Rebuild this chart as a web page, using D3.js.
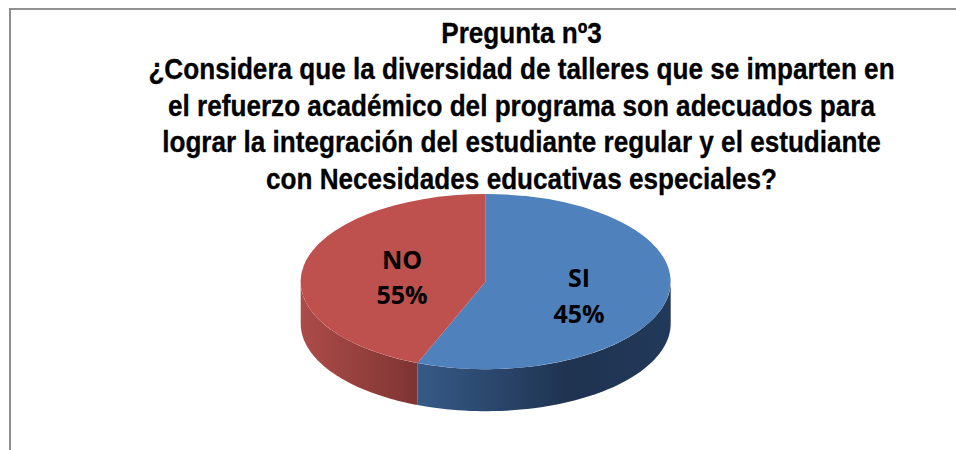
<!DOCTYPE html>
<html><head><meta charset="utf-8">
<script src="https://cdn.jsdelivr.net/npm/d3@7/dist/d3.min.js"></script>
<style>html,body{margin:0;padding:0;background:#fff}svg{display:block}</style>
</head><body><svg id="c" width="956" height="450"></svg>
<script>
const titleLines = ["Pregunta nº3","¿Considera que la diversidad de talleres que se imparten en","el refuerzo académico del programa son adecuados para","lograr la integración del estudiante regular y el estudiante","con Necesidades educativas especiales?"];
const categories = ["SI","NO"];
const percentLabels = ["45%","55%"];
const sliceShares = [56,44];
const topColors = ["#4f81bd","#be504e"];

const svg = d3.select("#c");
const cx=485.7, cy=281.6, rx=185, ry=87.6, depth=42;
const X=d3.scaleLinear().domain([-1,1]).range([cx-rx,cx+rx]);
const Y=d3.scaleLinear().domain([-1,1]).range([cy-ry,cy+ry]);

svg.append("path").attr("d","M10,450V9H956").attr("fill","none").attr("stroke","#8f8f8f").attr("stroke-width",2);

const defs=svg.append("defs");
function grad(id,stops,x1,x2){
  const g=defs.append("linearGradient").attr("id",id).attr("gradientUnits","userSpaceOnUse").attr("x1",x1).attr("x2",x2).attr("y1",0).attr("y2",0);
  stops.forEach(s=>g.append("stop").attr("offset",s[0]).attr("stop-color",s[1]));
}
grad("wall0",[[0,"#365a87"],[0.6,"#1f3350"],[1,"#22395a"]],418,671);
grad("wall1",[[0,"#ab4c49"],[0.5,"#95403d"],[1,"#7d3432"]],301,420);

const pie=d3.pie().sort(null).value(d=>d);
const arcs=pie(sliceShares);
const pt=(a,dz)=>[X(Math.sin(a)),Y(-Math.cos(a))+dz];
const line=d3.line();
arcs.forEach((d,i)=>{
  const a0=Math.max(d.startAngle,Math.PI/2), a1=Math.min(d.endAngle,Math.PI*1.5);
  if(a1<=a0) return;
  const as=d3.range(0,61).map(k=>a0+(a1-a0)*k/60);
  const pts=as.map(a=>pt(a,0)).concat(as.slice().reverse().map(a=>pt(a,depth)));
  svg.append("path").attr("d",line(pts)+"Z").attr("fill",`url(#wall${i})`);
});
const arcGen=d3.arc().innerRadius(0).outerRadius(1);
svg.append("g").attr("transform",`translate(${cx},${cy}) scale(${rx},${ry})`)
  .selectAll("path").data(arcs).join("path").attr("d",arcGen).attr("fill",(d,i)=>topColors[i]);

const tx=svg.append("g").attr("font-family","'Liberation Sans',Arial,sans-serif").attr("font-weight","bold").attr("font-size",29.3).attr("fill","#000").attr("stroke","#000").attr("stroke-width",0.3).attr("text-anchor","middle");
titleLines.forEach((t,i)=>tx.append("text").attr("transform",`translate(521.5,${42.5+i*36.6}) scale(0.892,1)`).text(t));

const labelX=[579,402];
const labelY=[[287,323],[269,304]];
const lg=svg.append("g").attr("font-family","'Open Sans','Noto Sans',sans-serif").attr("font-weight","bold").attr("font-size",25).attr("text-anchor","middle").attr("fill","#000");
categories.forEach((c,i)=>{
  lg.append("text").attr("x",labelX[i]).attr("y",labelY[i][0]).text(c);
  lg.append("text").attr("x",labelX[i]).attr("y",labelY[i][1]).text(percentLabels[i]);
});
</script></body></html>
